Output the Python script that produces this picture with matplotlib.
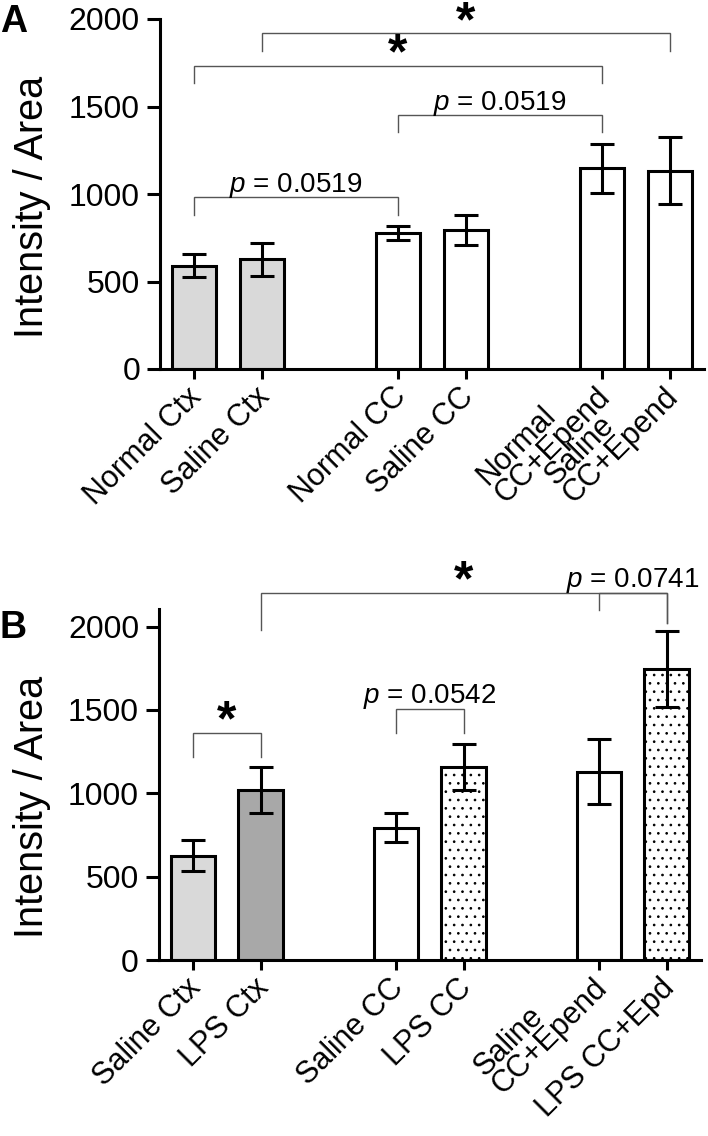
import matplotlib
matplotlib.use("Agg")
import matplotlib.pyplot as plt
from matplotlib.transforms import ScaledTranslation

plt.rcParams['font.family'] = ['Liberation Sans', 'DejaVu Sans']
plt.rcParams['mathtext.fontset'] = 'custom'
plt.rcParams['mathtext.it'] = 'Liberation Sans:italic'
plt.rcParams['mathtext.rm'] = 'Liberation Sans'
plt.rcParams['hatch.linewidth'] = 0.7

# ---------------- data ----------------
labels_A = ["Normal Ctx", "Saline Ctx", "Normal CC", "Saline CC",
            "Normal\nCC+Epend", "Saline\nCC+Epend"]
means_A = [590, 627, 775, 794, 1147, 1133]
sem_A = [65, 95, 40, 87, 139, 193]

labels_B = ["Saline Ctx", "LPS Ctx", "Saline CC", "LPS CC",
            "Saline\nCC+Epend", "LPS CC+Epd"]
means_B = [626, 1020, 794, 1156, 1130, 1746]
sem_B = [95, 137, 87, 138, 195, 227]

positions = [0, 1, 3, 4, 6, 7]

# brackets: (i, j, y_line, y_leg_i, y_leg_j, text)
brackets_A = [
    (0, 2, 981, 880, 880, r"$p$ = 0.0519"),
    (2, 4, 1451, 1352, 1352, r"$p$ = 0.0519"),
    (0, 4, 1733, 1636, 1636, "*"),
    (1, 5, 1918, 1819, 1819, "*"),
]
brackets_B = [
    (0, 1, 1364, 1220, 1220, "*"),
    (2, 3, 1506, 1364, 1364, r"$p$ = 0.0542"),
    (1, 5, 2203, 1980, 2020, "*"),
    (4, 5, 2203, 2100, 2020, r"$p$ = 0.0741"),
]

# ---------------- style ----------------
colors_A = ['#d9d9d9', '#d9d9d9', 'white', 'white', 'white', 'white']
hatch_A = [None] * 6
colors_B = ['#d9d9d9', '#a8a8a8', 'white', 'white', 'white', 'white']
hatch_B = [None, None, None, '..', None, '..']

LAB_DX, LAB_DY = 14, 34   # pixels right / down from tick at axis line

LW = 2.2
fig = plt.figure(figsize=(7.08, 11.36), dpi=100)
axA = fig.add_axes([160 / 708, (1136 - 369) / 1136, 544 / 708, 350 / 1136])
axB = fig.add_axes([159 / 708, (1136 - 960) / 1136, 541.6 / 708, 351 / 1136])


def draw(ax, labels, means, sems, colors, hatches, brackets, ymax, ylab_y):
    for k in range(len(means)):
        ax.bar(positions[k], means[k], width=0.66, color=colors[k],
               edgecolor='black', linewidth=LW, hatch=hatches[k], zorder=2)
    ax.errorbar(positions, means, yerr=sems, fmt='none', ecolor='black',
                elinewidth=LW, capsize=8.6, capthick=LW, zorder=3)
    ax.set_xlim(-0.5, 7.5)
    ax.set_ylim(0, ymax)
    ax.set_yticks([0, 500, 1000, 1500, 2000])
    ax.set_xticks(positions)
    ax.set_xticklabels([])
    for s in ['top', 'right']:
        ax.spines[s].set_visible(False)
    for s in ['left', 'bottom']:
        ax.spines[s].set_linewidth(LW)
    ax.tick_params(axis='y', direction='out', length=9.4, width=LW,
                   labelsize=23, pad=5)
    ax.tick_params(axis='x', direction='out', length=7, width=LW)
    ax.set_ylabel("Intensity / Area", fontsize=28.5)
    ax.yaxis.set_label_coords(-0.20, ylab_y)
    off = ScaledTranslation(LAB_DX / 100, -LAB_DY / 100, fig.dpi_scale_trans)
    for k, lab in enumerate(labels):
        ax.text(positions[k], 0, lab, transform=ax.get_xaxis_transform() + off,
                rotation=45, rotation_mode='anchor', ha='right', va='bottom',
                multialignment='left', fontsize=22, linespacing=0.8)
    for (i, j, yl, yi, yj, txt) in brackets:
        xi, xj = positions[i], positions[j]
        ax.plot([xi, xi, xj, xj], [yi, yl, yl, yj], color='#555555',
                lw=1.0, clip_on=False, zorder=1, solid_joinstyle='miter')
        xm = (xi + xj) / 2
        if txt == "*":
            ax.annotate(txt, (xm, yl), xytext=(0, -9), textcoords='offset points',
                        ha='center', va='bottom', fontsize=36,
                        fontweight='bold', annotation_clip=False)
        else:
            ax.annotate(txt, (xm, yl), xytext=(0, 4), textcoords='offset points',
                        ha='center', va='baseline', fontsize=20,
                        annotation_clip=False)


draw(axA, labels_A, means_A, sem_A, colors_A, hatch_A, brackets_A, 2000, 0.463)
draw(axB, labels_B, means_B, sem_B, colors_B, hatch_B, brackets_B, 2105, 0.436)

fig.text(0 / 708, 1 - 32 / 1136, "A", fontsize=27, fontweight='bold',
         ha='left', va='baseline')
fig.text(0 / 708, 1 - 638 / 1136, "B", fontsize=27, fontweight='bold',
         ha='left', va='baseline')

fig.savefig("out.png", dpi=100)
